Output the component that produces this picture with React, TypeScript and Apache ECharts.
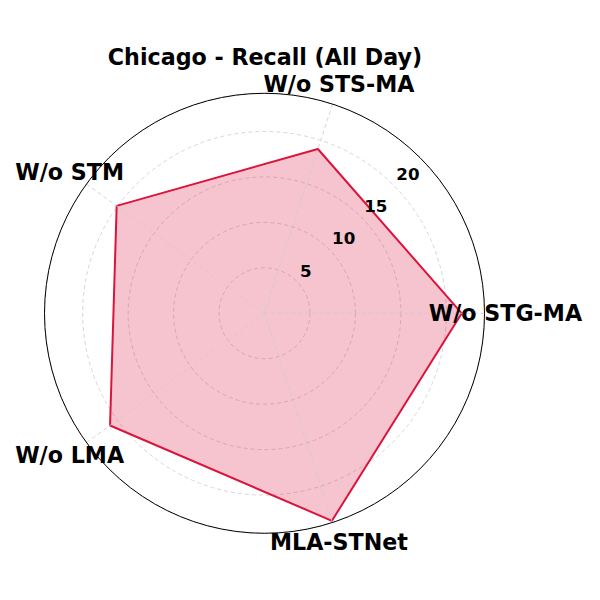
import React, { useEffect, useRef } from 'react';
import * as echarts from 'echarts';

const categories = ['W/o STG-MA', 'W/o STS-MA', 'W/o STM', 'W/o LMA', 'MLA-STNet'];
const recallValues = [21.7, 19.0, 20.1, 21.0, 24.0];
const radialTicks = [5, 10, 15, 20];
const chartTitle = 'Chicago - Recall (All Day)';

const R_MAX = 24.2;
const LABEL_R = 26.5;
const TICK_ANGLE = 45;
const FONT = 'DejaVu Sans';

export default function App() {
  const ref = useRef<HTMLDivElement>(null);
  useEffect(() => {
    const chart = echarts.init(ref.current!, null, { renderer: 'svg' });
    const step = 360 / categories.length;
    const angles = categories.map((_, i) => i * step);
    const lineData = recallValues.map((v, i) => [v, angles[i]]);
    lineData.push([recallValues[0], 360]);
    const gridStyle = { color: '#cccccc', type: [4, 3], width: 0.8 };
    chart.setOption({
      animation: false,
      title: {
        text: chartTitle,
        left: 265,
        top: 46,
        padding: 0,
        textAlign: 'center',
        textStyle: { fontFamily: FONT, fontWeight: 'bold', fontSize: 22.2, color: '#000' },
      },
      polar: { center: [264.5, 313.3], radius: 220 },
      angleAxis: {
        type: 'value',
        min: 0,
        max: 360,
        interval: step,
        startAngle: 0,
        clockwise: false,
        z: 5,
        axisLine: { show: true, lineStyle: { color: '#000', width: 1 } },
        axisTick: { show: false },
        axisLabel: { show: false },
        splitLine: { show: true, lineStyle: gridStyle },
      },
      radiusAxis: {
        type: 'value',
        min: 0,
        max: R_MAX,
        interval: 5,
        z: 1,
        axisLine: { show: false },
        axisTick: { show: false },
        axisLabel: { show: false },
        splitLine: { show: true, lineStyle: gridStyle },
      },
      series: [
        {
          type: 'line',
          coordinateSystem: 'polar',
          data: lineData,
          symbol: 'none',
          z: 3,
          lineStyle: { color: '#DC143C', width: 2 },
          areaStyle: { color: '#DC143C', opacity: 0.25 },
        },
        {
          type: 'scatter',
          coordinateSystem: 'polar',
          clip: false,
          symbolSize: 0,
          z: 10,
          itemStyle: { opacity: 1 },
          data: categories.map((c, i) => ({ name: c, value: [LABEL_R, angles[i]] })),
          label: {
            show: true,
            position: 'inside',
            formatter: (p: any) => p.name,
            align: 'center',
            verticalAlign: 'middle',
            fontFamily: FONT,
            fontWeight: 'bold',
            fontSize: 22.2,
            color: '#000',
            opacity: 1,
          },
        },
        {
          type: 'scatter',
          coordinateSystem: 'polar',
          clip: false,
          symbolSize: 0,
          z: 10,
          itemStyle: { opacity: 1 },
          data: radialTicks.map((t) => [t, TICK_ANGLE]),
          label: {
            show: true,
            position: 'inside',
            formatter: (p: any) => String(p.value[0]),
            align: 'left',
            verticalAlign: 'middle',
            offset: [3.3, -10.6],
            fontFamily: FONT,
            fontWeight: 'bold',
            fontSize: 16.7,
            color: '#000',
            opacity: 1,
          },
        },
      ],
    });
    return () => chart.dispose();
  }, []);
  return <div ref={ref} style={{ position: 'absolute', left: 0, top: 0, width: 600, height: 600 }} />;
}
